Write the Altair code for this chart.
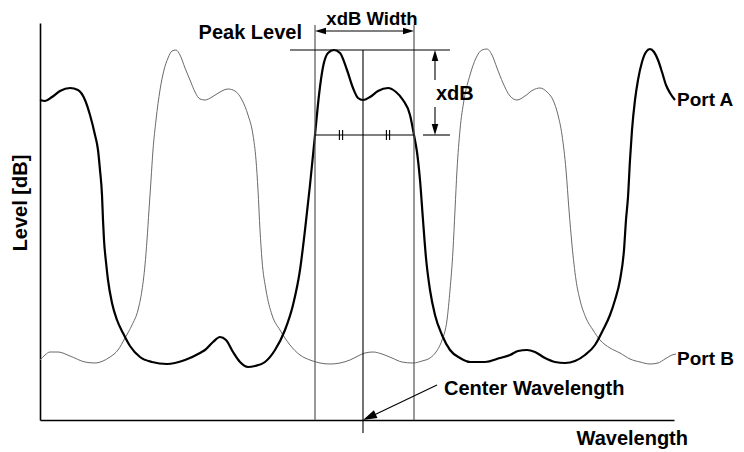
import altair as alt
import pandas as pd

# ---- data (arbitrary wavelength / level units; axis origin at 0,0) ----
port_a_wl = [0, 5, 12, 20, 30, 38, 45, 50, 55, 58, 60, 62, 63, 64, 66, 68, 72, 77, 83, 90,
             100, 112, 127, 145, 160, 165, 173, 180, 186, 193, 200, 208, 215, 225, 235, 245,
             253, 260, 265, 270, 275, 279, 283, 288, 294, 300, 307, 313, 318, 323, 330, 338,
             348, 356, 363, 370, 374, 377, 380, 383, 386, 390, 395, 402, 410, 420, 430, 445,
             460, 470, 478, 487, 495, 505, 515, 525, 535, 545, 555, 563, 570, 575, 580, 584,
             586, 588, 590, 592, 595, 598, 602, 606, 610, 614, 618, 622, 626, 630, 635]
port_a_lv = [320, 319, 323, 329, 332, 330, 320, 305, 285, 270, 250, 225, 200, 180, 158, 140,
             117, 100, 87, 74, 63, 58, 56, 60, 67, 70, 78, 83, 80, 68, 58, 53, 54, 58, 70, 90,
             115, 150, 190, 235, 285, 325, 353, 367, 370, 367, 350, 332, 322, 320, 323, 329,
             332, 328, 320, 305, 285, 268, 240, 200, 162, 130, 105, 85, 70, 62, 58, 58,
             62, 65, 69, 70, 68, 62, 58, 57, 59, 65, 75, 90, 105, 120, 140, 170,
             200, 223, 260, 290, 320, 340, 358, 368, 371, 368, 360, 348, 335, 327, 320]

port_b_wl = [0, 5, 10, 18, 30, 45, 55, 63, 70, 78, 85, 92, 98, 102, 105, 107, 109, 111, 113,
             116, 120, 124, 128, 132, 136, 140, 145, 150, 155, 160, 165, 172, 180, 188, 195,
             202, 208, 213, 216, 218, 220, 222, 226, 232, 240, 250, 260, 270, 280, 290, 300,
             310, 318, 325, 333, 342, 352, 362, 373, 382, 390, 396, 402, 407, 410, 413, 415,
             417, 420, 424, 430, 436, 442, 447, 452, 457, 463, 470, 477, 485, 493, 500, 507,
             513, 518, 522, 526, 529, 532, 536, 540, 546, 553, 560, 570, 580, 590, 600, 610,
             618, 625, 632, 636]
port_b_lv = [60, 65, 68, 68, 64, 58, 57, 59, 63, 70, 82, 95, 110, 130, 155, 180, 210, 240, 270,
             300, 330, 350, 362, 369, 370, 365, 352, 340, 328, 321, 320, 323, 328, 331, 329,
             320, 305, 285, 260, 230, 190, 160, 130, 105, 90, 75, 65, 60, 57, 56, 57,
             60, 64, 67, 68, 66, 62, 58, 57, 59, 62, 68, 80, 100, 130, 170, 210,
             250, 290, 320, 345, 362, 370, 371, 365, 352, 337, 324, 320, 324, 330, 332, 328,
             320, 305, 285, 250, 210, 175, 140, 120, 102, 90, 80, 72, 67, 61, 58, 56,
             57, 61, 65, 66]

# annotation values
peak_level = 370
xdb_level = 285
left_edge = 275
right_edge = 374
center_wl = 323
width_arrow_level = 389
xdb_arrow_wl = 395
tick_wls = [301, 348]

W, H = 634, 397
xs = alt.Scale(domain=[0, W], nice=False, zero=False)
ys = alt.Scale(domain=[0, H], nice=False, zero=False)
FONT = "Liberation Sans"
ARROW = "M0,0 L-0.6,2 L0.6,2 Z"

AX = alt.Axis(title=None, labels=False, ticks=False, grid=False,
              domainColor="black", domainWidth=1.6)


def X(field):
    return alt.X(field, scale=xs, axis=AX)


def Y(field):
    return alt.Y(field, scale=ys, axis=AX)


df_a = pd.DataFrame({"wl": port_a_wl, "lv": port_a_lv})
df_b = pd.DataFrame({"wl": port_b_wl, "lv": port_b_lv})

line_b = alt.Chart(df_b).mark_line(color="#6a6a6a", strokeWidth=1, interpolate="monotone").encode(
    x=X("wl:Q"), y=Y("lv:Q"),
)
line_a = alt.Chart(df_a).mark_line(color="black", strokeWidth=2.2, interpolate="monotone").encode(
    x=X("wl:Q"), y=Y("lv:Q"),
)


def rules(rows, color="black", width=1.0):
    df = pd.DataFrame(rows, columns=["x", "y", "x2", "y2"])
    return alt.Chart(df).mark_rule(color=color, strokeWidth=width).encode(
        x=X("x:Q"), y=Y("y:Q"), x2="x2:Q", y2="y2:Q",
    )


edge_rules = rules([
    (left_edge, 0, left_edge, H - 2),
    (right_edge, 0, right_edge, H - 2),
], color="#555555", width=1.2)

black_rules = rules([
    (center_wl, -13, center_wl, peak_level),
    (250, peak_level, 410, peak_level),
    (left_edge, xdb_level, right_edge, xdb_level),
    (383, xdb_level, 410, xdb_level),
    (left_edge + 8, width_arrow_level, right_edge - 8, width_arrow_level),
    (xdb_arrow_wl, peak_level - 8, xdb_arrow_wl, 340),
    (xdb_arrow_wl, 313, xdb_arrow_wl, xdb_level + 8),
    (397, 35, center_wl + 9, 4),
] + [(t + d, xdb_level - 5, t + d, xdb_level + 5) for t in tick_wls for d in (-1.6, 1.6)],
    width=1.1)

heads = pd.DataFrame({
    "x": [left_edge, right_edge, xdb_arrow_wl, xdb_arrow_wl, center_wl],
    "y": [width_arrow_level, width_arrow_level, peak_level, xdb_level, 0],
    "ang": [270, 90, 0, 180, 245],
    "sz": [121, 121, 121, 121, 196],
})
arrow_heads = alt.Chart(heads).mark_point(shape=ARROW, filled=True, color="black", opacity=1).encode(
    x=X("x:Q"), y=Y("y:Q"),
    angle=alt.Angle("ang:Q", scale=None),
    size=alt.Size("sz:Q", scale=None),
)


def texts(rows, align, angle=0, baseline="alphabetic", size=20):
    df = pd.DataFrame(rows, columns=["x", "y", "t"])
    return alt.Chart(df).mark_text(align=align, baseline=baseline, font=FONT, fontWeight="bold",
                                   fontSize=size, color="black", angle=angle).encode(
        x=X("x:Q"), y=Y("y:Q"), text="t:N",
    )


t_left = texts([
    (396, 320, "xdB"),
    (404, 25, "Center Wavelength"),
], "left")
t_ports = texts([
    (637, 314, "Port A"),
    (637, 55, "Port B"),
], "left", size=19)
t_right = texts([
    (262, 381, "Peak Level"),
    (648, -25, "Wavelength"),
], "right")
t_center = texts([(332, 395, "xdB Width")], "center", size=18.5)
t_rot = texts([(-13, 217, "Level [dB]")], "center", angle=270)

chart = alt.layer(
    line_b, line_a, edge_rules, black_rules, arrow_heads, t_left, t_ports, t_right, t_center, t_rot
).properties(
    width=W, height=H,
    padding={"left": 32, "top": 15, "right": 62, "bottom": 32},
    autosize=alt.AutoSizeParams(type="none"),
    background="white",
).configure_view(stroke=None)

chart.save("out.html", embed_options={"renderer": "svg", "actions": False})
